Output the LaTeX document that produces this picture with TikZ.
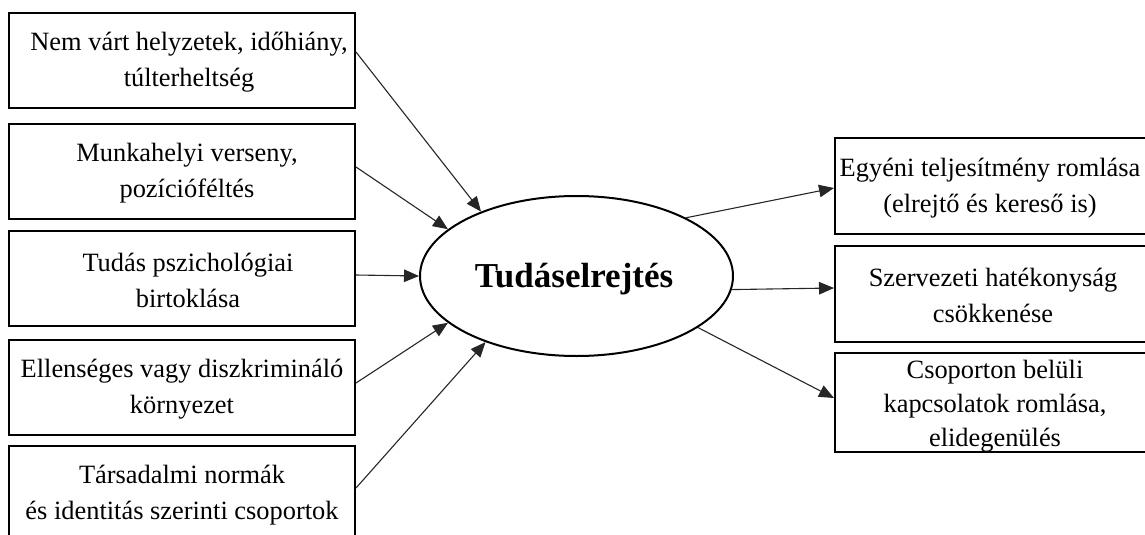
\documentclass[tikz,border=0pt]{standalone}
\usepackage{fontspec}
\setmainfont{Liberation Serif}
\usetikzlibrary{arrows.meta,shapes.geometric,calc}
\begin{document}
\begin{tikzpicture}[x=1pt,y=-1pt,
  box/.style={draw=black,line width=2pt,inner sep=0pt},
  lbox/.style={box,minimum width=346pt,minimum height=95pt},
  rbox/.style={box,minimum width=315pt,minimum height=96pt},
  lbl/.style={font=\fontsize{26.4}{36}\selectfont,align=center,inner sep=0pt},
  arr/.style={draw=black!85,line width=1.1pt,-{Triangle[length=15pt,width=12.5pt]}}]
\useasboundingbox (0,0) rectangle (1145,535);
% left boxes
\node[lbox] (b1) at (182,60.5) {};
\node[lbox] (b2) at (182,171.5) {};
\node[lbox] (b3) at (182,278.5) {};
\node[lbox] (b4) at (182,387.5) {};
\node[lbox] (b5) at (182,493.5) {};
\node[lbl] (t1) at (189,62) {Nem várt helyzetek, időhiány,\\túlterheltség};
\node[lbl] (t2) at (187,173) {Munkahelyi verseny,\\pozícióféltés};
\node[lbl] (t3) at (188,280) {Tudás pszichológiai\\birtoklása};
\node[lbl] (t4) at (182,389) {Ellenséges vagy diszkrimináló\\környezet};
\node[lbl] (t5) at (182,495) {Társadalmi normák\\és identitás szerinti csoportok};
% ellipse
\node[ellipse,draw=black,line width=2pt,minimum width=313pt,minimum height=160pt,inner sep=0pt,
  font=\fontsize{35}{40}\selectfont\bfseries] (e) at (576.5,276) {};
\node[font=\fontsize{35}{40}\selectfont\bfseries,inner sep=0pt] (et) at (574,279) {Tudáselrejtés};
% right boxes
\node[rbox] (r1) at (992.5,186) {};
\node[rbox] (r2) at (992.5,293.5) {};
\node[rbox,minimum height=99pt] (r3) at (992.5,402) {};
\node[lbl] (u1) at (990,188) {Egyéni teljesítmény romlása\\(elrejtő és kereső is)};
\node[lbl] (u2) at (993,295) {Szervezeti hatékonyság\\csökkenése};
\node[lbl,font=\fontsize{26.4}{34}\selectfont] (u3) at (995,406) {Csoporton belüli\\kapcsolatok romlása,\\elidegenülés};
% arrows
\draw[arr] ($(b1.east)+(0,-8.5)$) -- (e.146.3);
\draw[arr] ($(b2.east)+(0,-4.5)$) -- (e.160.6);
\draw[arr] ($(b3.east)+(0,-3.5)$) -- (e.180);
\draw[arr] ($(b4.east)+(0,-4.5)$) -- (e.200.8);
\draw[arr] ($(b5.east)+(0,-5.5)$) -- (e.216.9);
\draw[arr] (e.28.4) -- ($(r1.west)+(0,2)$);
\draw[arr] (e.355.6) -- ($(r2.west)+(0,-5.5)$);
\draw[arr] (e.337.6) -- ($(r3.west)+(0,-4)$);
\end{tikzpicture}
\end{document}
